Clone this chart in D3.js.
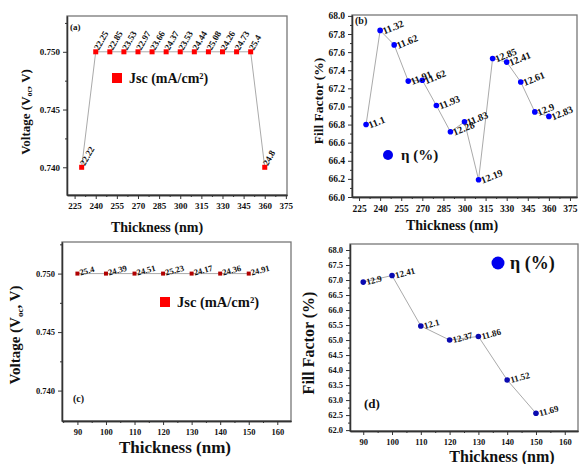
<!DOCTYPE html>
<html>
<head>
<meta charset="utf-8">
<script src="https://cdn.jsdelivr.net/npm/d3@7"></script>
<style>
  body { margin: 0; background: #fff; }
  svg { display: block; }
  text { font-family: "Liberation Serif", "Times New Roman", serif; font-weight: bold; fill: #111; }
</style>
</head>
<body>
<div id="chart"></div>
<script>
// ---- data ----
// (a) and (b): thickness sweep 230..360 nm
var thickAB = [230, 240, 250, 260, 270, 280, 290, 300, 310, 320, 330, 340, 350, 360];
var vocA = [0.740, 0.750, 0.750, 0.750, 0.750, 0.750, 0.750, 0.750, 0.750, 0.750, 0.750, 0.750, 0.750, 0.740];
var jscA = ["22.22", "22.25", "22.85", "23.53", "22.97", "23.66", "24.37", "23.53", "24.44", "25.08", "24.26", "24.73", "25.4", "24.8"];
var ffB = [66.80, 67.84, 67.68, 67.28, 67.29, 67.01, 66.72, 66.83, 66.19, 67.53, 67.49, 67.27, 66.94, 66.89];
var effB = ["11.1", "11.32", "11.62", "11.91", "11.62", "11.93", "12.28", "11.83", "12.19", "12.85", "12.41", "12.61", "12.9", "12.83"];

// (c) and (d): thickness sweep 90..150 nm
var thickCD = [90, 100, 110, 120, 130, 140, 150];
var vocC = [0.750, 0.750, 0.750, 0.750, 0.750, 0.750, 0.750];
var jscC = ["25.4", "24.39", "24.51", "25.23", "24.17", "24.36", "24.91"];
var ffD = [66.93, 67.15, 65.47, 65.00, 65.12, 63.67, 62.56];
var effD = ["12.9", "12.41", "12.1", "12.37", "11.86", "11.52", "11.69"];

// tick values
var xTicksAB = [225, 240, 255, 270, 285, 300, 315, 330, 345, 360, 375];
var xTicksCD = [90, 100, 110, 120, 130, 140, 150, 160];
var vocTicks = [0.740, 0.745, 0.750];
var ffTicksB = [66.0, 66.2, 66.4, 66.6, 66.8, 67.0, 67.2, 67.4, 67.6, 67.8, 68.0];
var ffTicksD = [62.0, 62.5, 63.0, 63.5, 64.0, 64.5, 65.0, 65.5, 66.0, 66.5, 67.0, 67.5, 68.0];

var W = 579, H = 464;
var svg = d3.select("#chart").append("svg").attr("width", W).attr("height", H);

// one panel = one little chart
function panel(c) {
  var g = svg.append("g");
  var x = d3.scaleLinear().domain(c.xDom).range([c.l, c.r]);
  var y = d3.scaleLinear().domain(c.yDom).range([c.b, c.t]);

  // box around the plot
  g.append("rect")
    .attr("x", c.l).attr("y", c.t)
    .attr("width", c.r - c.l).attr("height", c.b - c.t)
    .attr("fill", "none").attr("stroke", "#777").attr("stroke-width", 1.3);

  // minor ticks first, then major ones with labels
  g.append("g").attr("transform", "translate(0," + c.b + ")")
    .call(d3.axisBottom(x).tickValues(c.xMinor).tickSize(2).tickSizeOuter(0).tickFormat(""));
  g.append("g").attr("transform", "translate(" + c.l + ",0)")
    .call(d3.axisLeft(y).tickValues(c.yMinor).tickSize(2).tickSizeOuter(0).tickFormat(""));

  var xa = g.append("g").attr("transform", "translate(0," + c.b + ")")
    .call(d3.axisBottom(x).tickValues(c.xTicks).tickSize(4).tickSizeOuter(0).tickFormat(d3.format("d")));
  xa.selectAll("text").attr("font-size", c.tickFont).attr("dy", "0.8em");
  var ya = g.append("g").attr("transform", "translate(" + c.l + ",0)")
    .call(d3.axisLeft(y).tickValues(c.yTicks).tickSize(4).tickSizeOuter(0).tickFormat(d3.format(c.yFmt)));
  ya.selectAll("text").attr("font-size", c.tickFont);
  g.selectAll(".domain").attr("stroke", "#333").attr("stroke-width", 1.3);
  g.selectAll(".tick line").attr("stroke", "#333");
  g.selectAll(".tick text").attr("fill", "#111");

  // connecting line
  var pts = c.xs.map(function (d, i) { return [d, c.ys[i]]; });
  g.append("path").datum(pts)
    .attr("fill", "none").attr("stroke", "#aaa").attr("stroke-width", 1)
    .attr("d", d3.line().x(function (d) { return x(d[0]); }).y(function (d) { return y(d[1]); }));

  // markers
  if (c.shape === "square") {
    g.selectAll("rect.pt").data(pts).enter().append("rect").attr("class", "pt")
      .attr("x", function (d) { return x(d[0]) - c.ms / 2; })
      .attr("y", function (d) { return y(d[1]) - c.ms / 2; })
      .attr("width", c.ms).attr("height", c.ms).attr("fill", c.color);
  } else {
    g.selectAll("circle.pt").data(pts).enter().append("circle").attr("class", "pt")
      .attr("cx", function (d) { return x(d[0]); })
      .attr("cy", function (d) { return y(d[1]); })
      .attr("r", c.ms).attr("fill", c.color);
  }

  // rotated value labels next to each point
  g.selectAll("text.lab").data(pts).enter().append("text").attr("class", "lab")
    .attr("transform", function (d) {
      return "translate(" + (x(d[0]) + c.lab[0]) + "," + (y(d[1]) + c.lab[1]) + ") rotate(" + c.lab[2] + ")";
    })
    .attr("font-size", c.labFont)
    .text(function (d, i) { return c.labels[i]; });

  // legend
  if (c.shape === "square") {
    g.append("rect").attr("x", c.leg[0] - c.leg[2] / 2).attr("y", c.leg[1] - c.leg[2] / 2)
      .attr("width", c.leg[2]).attr("height", c.leg[2]).attr("fill", "#ff0000");
  } else {
    g.append("circle").attr("cx", c.leg[0]).attr("cy", c.leg[1]).attr("r", c.leg[2]).attr("fill", "#0000ee");
  }
  g.append("text").attr("x", c.leg[3]).attr("y", c.leg[1]).attr("dy", "0.35em")
    .attr("font-size", c.leg[4]).text(c.legText);

  // panel letter
  g.append("text").attr("x", c.tag[0]).attr("y", c.tag[1]).attr("dy", "0.35em")
    .attr("font-size", c.tag[2]).text(c.tagText);

  // axis titles
  g.append("text").attr("x", c.xt[0]).attr("y", c.xt[1]).attr("dy", "0.35em")
    .attr("text-anchor", "middle").attr("font-size", c.xt[2]).text("Thickness (nm)");
  var yt = g.append("text").attr("transform", "translate(" + c.yt[0] + "," + c.yt[1] + ") rotate(-90)")
    .attr("dy", "0.35em").attr("text-anchor", "middle").attr("font-size", c.yt[2]);
  if (c.yTitle === "voc") {
    yt.append("tspan").text("Voltage (V");
    yt.append("tspan").attr("font-size", c.yt[2] * 0.6).attr("dy", "0.3em").text("oc");
    yt.append("tspan").attr("dy", "-0.18em").text(", V)");
  } else {
    yt.text("Fill Factor (%)");
  }
}

panel({
  l: 67, r: 287, t: 16, b: 195,
  xDom: [219.6, 375.8], yDom: [0.7376, 0.7531],
  xTicks: xTicksAB, xMinor: d3.range(232.5, 376, 15),
  yTicks: vocTicks, yMinor: [0.7425, 0.7475, 0.7525], yFmt: ".3f",
  tickFont: 9,
  xs: thickAB, ys: vocA, labels: jscA,
  shape: "square", color: "#ff0000", ms: 5,
  lab: [3, -1, -60], labFont: 9,
  leg: [117, 78, 10, 129, 14], legText: "Jsc (mA/cm²)",
  tag: [70, 27, 9], tagText: "(a)",
  xt: [157, 227, 14], yt: [25, 112, 13], yTitle: "voc"
});

panel({
  l: 352, r: 577, t: 15, b: 197,
  xDom: [220, 380], yDom: [66, 68.01],
  xTicks: xTicksAB, xMinor: d3.range(232.5, 380, 15),
  yTicks: ffTicksB, yMinor: d3.range(66.1, 68, 0.2), yFmt: ".1f",
  tickFont: 9.5,
  xs: thickAB, ys: ffB, labels: effB,
  shape: "circle", color: "#0000ff", ms: 2.8,
  lab: [4, 4, -22], labFont: 10,
  leg: [388, 155, 5, 401, 15], legText: "η (%)",
  tag: [355, 20, 10], tagText: "(b)",
  xt: [452, 225, 14], yt: [318, 101, 13.5], yTitle: "ff"
});

panel({
  l: 62, r: 291, t: 242, b: 421,
  xDom: [84.6, 164.8], yDom: [0.7374, 0.7527],
  xTicks: xTicksCD, xMinor: d3.range(85, 165, 10),
  yTicks: vocTicks, yMinor: [0.7425, 0.7475, 0.7525], yFmt: ".3f",
  tickFont: 8.5,
  xs: thickCD, ys: vocC, labels: jscC,
  shape: "square", color: "#b00000", ms: 4,
  lab: [3, 2, -15], labFont: 8.5,
  leg: [165, 302, 10, 177, 14.5], legText: "Jsc (mA/cm²)",
  tag: [73, 398, 10], tagText: "(c)",
  xt: [175, 447, 17], yt: [15, 335, 15], yTitle: "voc"
});

panel({
  l: 350, r: 578, t: 244, b: 431,
  xDom: [85.4, 164.6], yDom: [61.97, 68.2],
  xTicks: xTicksCD, xMinor: d3.range(95, 160, 10),
  yTicks: ffTicksD, yMinor: d3.range(62.25, 68, 0.5), yFmt: ".1f",
  tickFont: 8.5,
  xs: thickCD, ys: ffD, labels: effD,
  shape: "circle", color: "#0a0ab0", ms: 2.8,
  lab: [4, 3, -15], labFont: 9,
  leg: [498, 263, 6.5, 510, 18], legText: "η (%)",
  tag: [364, 403, 13], tagText: "(d)",
  xt: [502, 456, 16], yt: [308, 343, 16], yTitle: "ff"
});
</script>
</body>
</html>
